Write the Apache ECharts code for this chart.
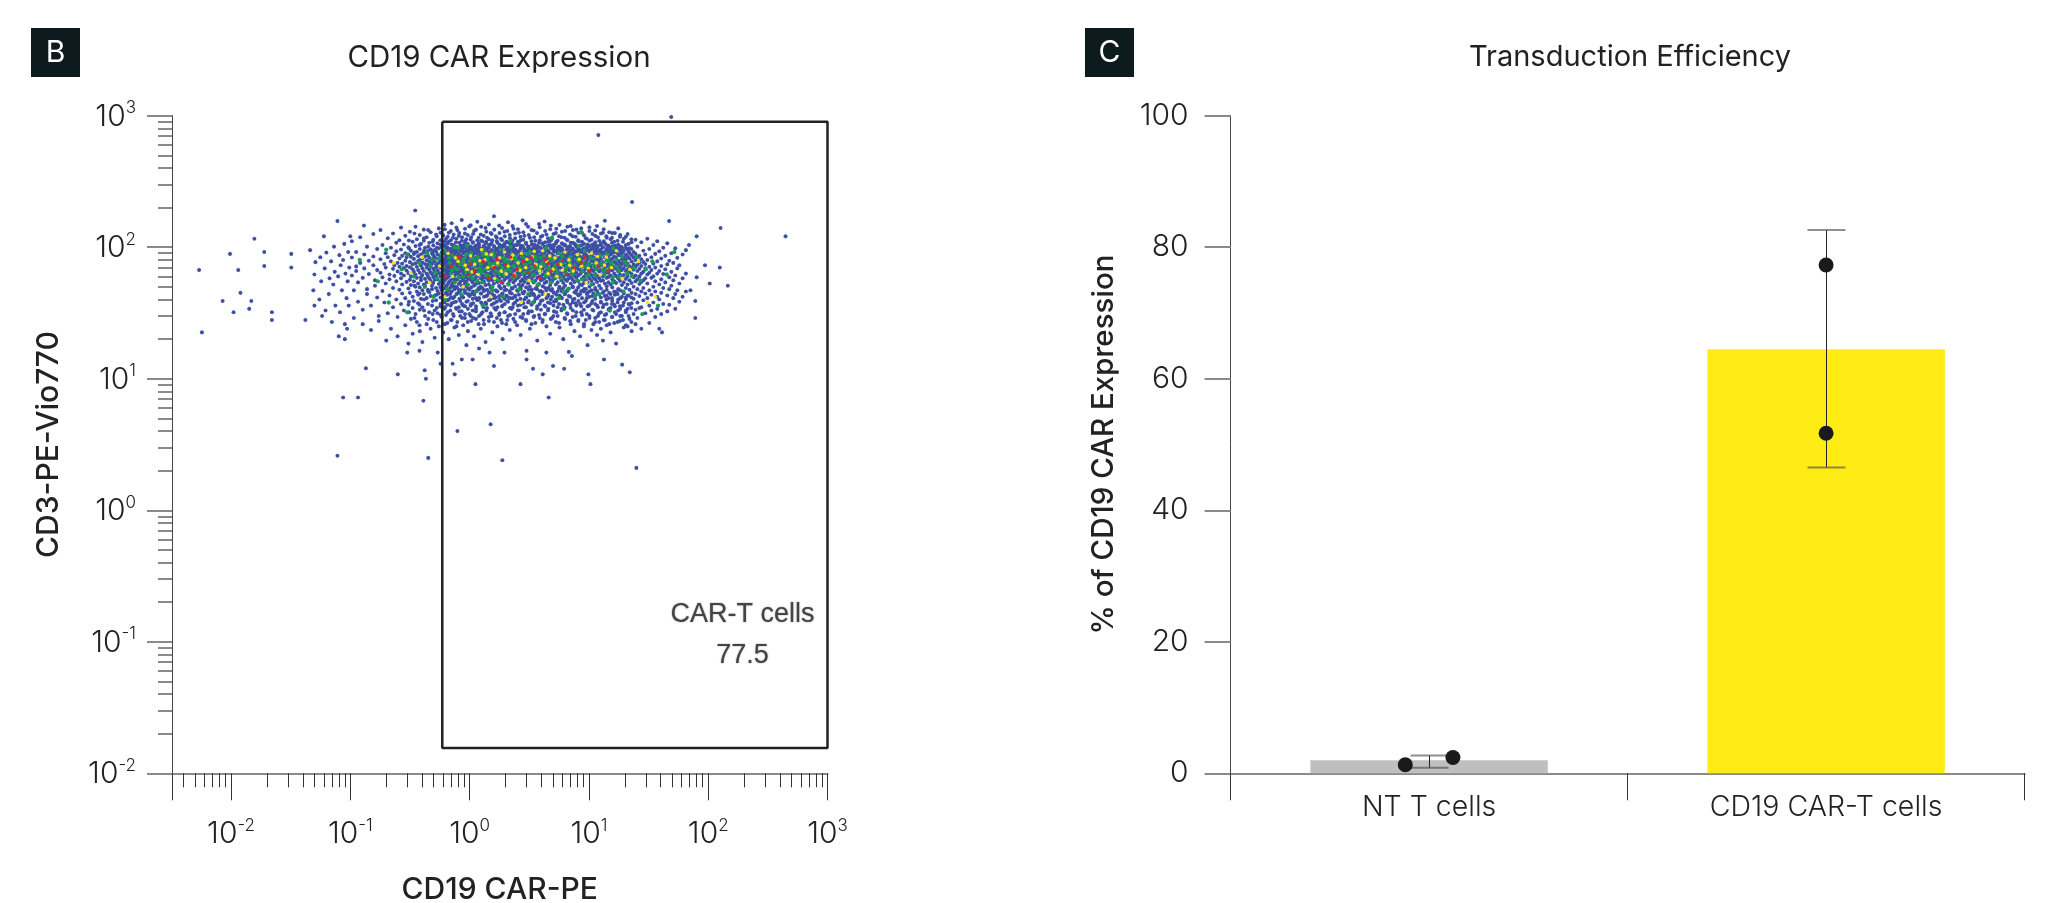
<!DOCTYPE html>
<html><head><meta charset="utf-8">
<script src="https://cdn.jsdelivr.net/npm/echarts@6/dist/echarts.min.js"></script>
<style>html,body{margin:0;padding:0;background:#fff}#c{width:2052px;height:903px}</style>
</head><body><div id="c"></div>
<script>
// ---------- Panel B: flow cytometry ----------
const xDecades = [0.01, 0.1, 1, 10, 100, 1000];
const yDecades = [0.01, 0.1, 1, 10, 100, 1000];
const xMajorTicks = [0.0032, 0.01, 0.1, 1, 10, 100, 1000];
const xMinorTicks = [0.004,0.005,0.006,0.007,0.008,0.009,0.02,0.03,0.04,0.05,0.06,0.07,0.08,0.09,0.2,0.3,0.4,0.5,0.6,0.7,0.8,0.9,2,3,4,5,6,7,8,9,20,30,40,50,60,70,80,90,200,300,400,500,600,700,800,900];
const yMinorTicks = [0.02,0.03,0.04,0.05,0.06,0.07,0.08,0.09,0.2,0.3,0.4,0.5,0.6,0.7,0.8,0.9,2,3,4,5,6,7,8,9,20,30,40,50,60,70,80,90,200,300,400,500,600,700,800,900];
const gateX = [0.59, 1000, 1000, 0.59, 0.59];
const gateY = [900, 900, 0.0156, 0.0156, 900];

// scattered events read individually [x, y]
const sparseEvents = [[49,977],[12,712],[23,221],[.35,190],[.078,158],[127,140],[445,121],[80,121],[47,158],[.0157,116],[.0098,89],[.019,92],[.0054,67],[.0115,67],[.019,72],[.032,89],[.032,70],[.046,95],[.06,121],[.1,121],[.13,146],[.0085,39],[.012,45],[.0148,39],[.0105,32],[.0142,34],[.022,32],[.022,28],[.0057,22.5],[.042,28],[.05,36],[.08,21],[.09,20],[.2,19.5],[.135,12],[.25,10.8],[.42,11.6],[.43,10],[.087,7.2],[.116,7.2],[.41,6.8],[4.6,7.2],[1.5,4.5],[.79,4],[.078,2.6],[.45,2.5],[1.88,2.4],[25,2.1],[.75,10.8],[1.12,9.1],[2.67,9.1],[10.3,9.1],[9.9,10.8],[4.1,10.8],[3.4,11.9],[5,12.5],[6.2,11.9],[22,11.2],[19,12.8],[13.4,14],[3,14],[1.6,12.5],[.86,14],[.72,13],[.57,13],[7.2,14.9],[4.4,15.8],[3,16.3],[1.96,15.8],[1.47,15.8],[1.06,14],[.3,15.8],[.38,16.3],[.54,15.8],[1.2,17],[41,22.5],[78,29],[78,39],[146,51],[103,53],[125,70],[94,73],[80,59],[71,47],[69,104],[.05,62],[.051,77],[.049,47],[.056,84],[.057,55],[.055,40],[.058,30],[.061,69],[.063,91],[.062,33],[.067,58],[.069,78],[.066,44],[.07,27],[.073,101],[.074,65],[.072,52],[.075,36],[.081,87],[.083,73],[.079,60],[.085,47],[.082,32],[.089,106],[.091,63],[.087,80],[.093,41],[.09,26],[.096,92],[.098,70],[.095,55],[.097,36],[.094,24]];

// main cloud, one row per CD19 CAR-PE reading: [x, y, y, y ...]
const cloudColumns = [
[.103,111,83.5,61],[.107,47,29],[.112,92,71.5,66],[.116,38.5,54],[.121,119,76],[.127,58.5,33.5,26],[.131,88,69],[.138,101,48,44],[.143,79,62.5],[.149,36,23.5],[.156,126,85,73],[.161,56,51],[.168,97,67,41.5],[.173,30,27.5],[.179,135,81,64],[.186,104,59,46.5],[.193,74.5,38],[.198,90,70,53],[.206,117,84,31.5],[.213,62,57,43],[.219,99,78,24],[.228,127,68.5,49,35],[.234,87,73,60.5],[.243,108,93,55,40],[.249,76,65.5,29.5,21],[.258,113,82,71,47.5],
[.266,141,96,63,58,37],[.272,86,75,52,44.5],[.281,105,69.5,61,33],[.289,122,90,79,41,25.5],[.296,83.5,72,66.5,54.5],[.307,100,88,63.5,48.5,36.5,18.5],[.316,131,77,70.5,56.5,45],[.322,94,84.5,60,51.5,28.5],[.333,110,74,68,42,34.5,22],[.341,89,81.5,65,55,39],[.352,143,102,75.5,62,50,31],[.361,115,92,71,58.5,46,27],[.37,85.5,78.5,67,53,43.5,37.5],[.382,124,97,80,64,49.5,33.5,23],[.391,106,88.5,72.5,59,56,40.5],[.402,82.5,76.5,69,61.5,47,35,19],[.413,136,112,91,66,52,44],[.423,99,85,74.5,57.5,50.5,30],[.436,119,79.5,70,63,54,41,26],[.447,93.5,86.5,73.5,60.5,47.5,37],[.459,108,83,77.5,67.5,58,45.5,32],[.471,130,96.5,71.5,64.5,55.5,42.5,24],[.484,90,81,75,62.5,51,48,36],[.496,114,103,87,68.5,59.5,53.5,28],[.509,95,84,78,65.5,56.5,43,33,20.5],[.524,125,92.5,74,70.5,61,49,39.5],[.538,107,88,82,66.5,57,46.5,31.5],[.552,139,98,76,72,63.5,52.5,44.5,25],[.569,113,86,79,69.5,60,54.5,41.5,35.5],[.583,101,91.5,83.5,73,64,50,47,29.5],[.601,123,94.5,77,67,58.5,53,42,22.5],
[.617,148,104,89.5,81,74.5,68,61.5,55.5,48.5,38,34],[.634,116,96,85.5,78,71,65,57.5,50.5,45,30.5],[.651,100,92,82.5,75.5,69,63,59,52,43.5,36.5,26.5],[.668,129,110,87.5,80,72.5,66,60,54,47.5,40,20],[.689,97,90.5,84,76.5,70,62,56,49.5,44,33],[.707,152,105,93,79,73.5,67.5,64,51.5,46,37.5,28],[.726,118,99,86.5,81.5,74,68.5,58,53.5,41,31],[.746,94,88.5,83,77,70.5,65.5,60.5,55,48,42,24.5],[.768,109,101,91,78.5,72,66.5,62.5,56.5,50,38.5,34.5],[.789,135,95.5,85,80.5,75,69.5,63.5,57,49,44.5,27],[.811,122,89,82,76,71.5,64.5,59.5,52.5,45.5,35,21.5],[.836,103,93.5,86,79.5,73,67,61,54.5,47,39,30],
[.859,161,112,97.5,84.5,77.5,70.5,66,58.5,51,43,32.5],[.884,98.5,90,83.5,75.5,68,62.5,56,48.5,41.5,36,25.5],[.912,127,106,92,81,74.5,69,65,59,53,46.5,29],[.94,115,95,87,78.5,72.5,66.5,60.5,55,50.5,38.5,18],[.967,102,88,82.5,76,70,63,57.5,52,44,34,23],[.995,144,99.5,91.5,84,77,71,64,58.5,47.5,42.5,31],[1.03,119,96.5,85.5,79,73.5,67.5,61.5,56,49.5,37,27.5],[1.06,108,93,86.5,80,74,68.5,62,54,45.5,40.5,33],[1.09,133,100,89.5,81.5,75.5,69.5,63.5,57,51,43.5,21],[1.13,97,90,83,77.5,71.5,65.5,59.5,52.5,46,35.5,28.5],
[1.16,156,113,94.5,84.5,78,72,66,60,55.5,47,39.5],[1.2,104,92.5,87,79.5,74.5,68,62.5,53.5,48,41,30],[1.24,125,98,88.5,82,76,70,64.5,58,50,44.5,24],[1.28,111,95,85,80.5,73,67,61,56.5,49,36.5,32],[1.32,101,91,83.5,77,71,65,59,54.5,46.5,42,26],[1.36,140,107,93.5,86,78.5,72.5,66.5,60.5,51.5,38,19],[1.4,118,96,89,81,75,69,63,57.5,47.5,43,34.5],[1.45,99,92,84,79,73.5,68.5,62,55.5,52,45,29.5],[1.5,128,105,90.5,82.5,76.5,70.5,64,58.5,49.5,40,31.5],[1.55,113,94,87.5,80,74,67.5,61.5,56,50.5,44,22.5],
[1.6,172,102,91.5,85,78,71.5,65.5,59.5,53,37.5,27],[1.66,121,97,88,83,76,69.5,63.5,57,47,41.5,33.5],[1.71,108,93.5,86,80.5,74.5,68,60.5,54.5,46,35,25],[1.77,146,100,90,82,75.5,70,64,58,51,42.5,30.5],[1.83,116,95.5,87,79,73,66.5,62,55,48.5,39,28],[1.89,103,92,84.5,78,72,67,60,53.5,44.5,36,20],[1.96,131,106,89.5,81.5,75,69,63,56.5,50,40.5,32],[2.03,110,96.5,88.5,83.5,76.5,70.5,64.5,58.5,47.5,43,26],[2.1,155,99,91,85,77.5,71,65,59,52.5,38.5,30],[2.17,124,94,86.5,80,73.5,68,61.5,55.5,46.5,41,23.5],
[2.25,107,97.5,89,82,75.5,69.5,62.5,57.5,49,44.5,34],[2.33,138,101,92.5,84,78.5,72.5,66,60,54,37,28.5],[2.41,117,95,87.5,80.5,74,67.5,61,56,50.5,42,31],[2.5,104,90.5,85.5,79,73,68.5,63,58,47,39.5,25.5],[2.59,129,109,93,83,76,70,64,59.5,52,43.5,33],[2.68,113,98.5,88,81,75,69,62,55,48,36.5,21.5],[2.78,160,102,91,84.5,77,71.5,65.5,57,51.5,45,29],[2.88,122,96,86,79.5,73.5,67,60.5,54.5,46,40,35],[2.98,106,92,87,81.5,76,70.5,63.5,58,49.5,41.5,27.5],[3.09,143,100,89.5,83,77.5,72,66.5,59,53,38,31.5],
[3.2,118,94.5,85,78.5,74.5,68,61,56.5,50,43,24],[3.32,105,97,90,82.5,75.5,69.5,64,57.5,47.5,37,32.5],[3.44,134,103,93.5,84,79,72.5,65,60.5,54,44,29.5],[3.56,112,95.5,88.5,80,73,67.5,62.5,55.5,48.5,40.5,26.5],[3.69,100,91.5,86,81,76.5,70,63.5,58.5,51,35.5,19.5],[3.82,150,108,92.5,85,78,71,66,59.5,52.5,42.5,30.5],[3.96,120,98,87,79.5,74,68.5,60,56,46.5,39,33.5],[4.1,107,94,89,83.5,75,69,62,57,50.5,45.5,28],[4.25,157,101,91,82,77,71.5,65,58,53.5,36,31],[4.41,125,96.5,86.5,80.5,73.5,67,61.5,54.5,47,41,25],
[4.57,110,93,88,84.5,76,70,64.5,59,49,43.5,34],[4.74,137,104,90,81,75.5,69.5,63,56.5,51.5,37.5,22],[4.91,116,97.5,87.5,78.5,72.5,66.5,60.5,55,48,42,29],[5.09,102,92.5,85.5,82.5,74.5,68,62.5,57.5,45,38.5,32.5],[5.28,128,107,94,84,77.5,71,65.5,58.5,52,40,27],[5.47,112,99,89.5,80,73,67.5,61,54,46,35,30],[5.67,148,100.5,91,83,76.5,70.5,64,59.5,50,43,24.5],[5.88,119,95,86,79,75,69,63,56,47.5,41.5,33],[6.1,105,93.5,88.5,81.5,74,66,60,53.5,49,36.5,20],[6.32,133,103,92,85,78,72,65,57,51,44,28.5],
[6.55,114,96,87,80.5,73.5,68.5,61.5,55.5,46.5,39.5,31.5],[6.79,100,90.5,84,77,71.5,67,62,58,48.5,42.5,16],[7.04,145,108,94.5,86.5,79.5,74,66.5,59,53,34.5,26],[7.3,121,97.5,89,82,76,69.5,63.5,56.5,50.5,38,29.5],[7.57,106,92,85,78.5,72,65.5,60.5,54.5,45.5,40.5,23],[7.85,136,101,90.5,83.5,75,70,64,58.5,47,36,32],[8.14,113,95.5,87.5,80,73,68,61,55,49.5,43.5,27.5],[8.44,103,93,84.5,79,74.5,67,62.5,52,44,37,21],[8.75,129,110,91.5,81,76.5,71,65,57.5,51.5,41,30.5],[9.07,155,98,86,82.5,72.5,66.5,59.5,53.5,46,33.5,25],
[9.41,117,94,88.5,77.5,74,69,63,56,48,39,28],[9.75,105,96,85,80.5,73.5,68.5,60,54,45,35.5,18],[10.1,133,102,92.5,83,75.5,70.5,64.5,58,50,42,30],[10.5,114,97,87,79,72,67.5,61.5,55.5,47,37.5,23.5],[10.9,101,90,84,78,73,66,59,52.5,44.5,33,26],[11.3,122,104,93,82,76,69.5,62.5,57,49,40.5,29],[11.7,145,99,88,80.5,74.5,68,60.5,54.5,46.5,36,21.5],[12.2,112,94.5,85.5,78.5,71.5,65.5,58,51,43.5,31.5,27],[12.6,104,91,86.5,81.5,75,67,62,55.5,48.5,38,24],[13.1,129,100,89,77,72.5,66,60,56,45,35,19.5],
[13.6,159,107,92,83.5,74,69,63.5,53,42.5,30.5,28],[14.1,118,96.5,86,79.5,73,65,58.5,50.5,47.5,37,25.5],[14.6,103,93,84.5,76,71,64,59.5,54,41,33.5],[15.2,115,98,88,80,74.5,67.5,61,52,44,34.5,22.5],[15.7,128,101,90.5,82,72,66.5,57,49.5,39,29.5],[16.3,110,94,85,77.5,70.5,63,55,46,36.5,26.5],[16.9,99,91.5,83,75,68.5,60.5,53.5,45.5,31,18.5],[17.6,139,105,87.5,79,72.5,65.5,58,48,40,33],[18.2,120,95,86.5,76.5,70,62,55.5,47,35.5,27.5],[18.9,100,89.5,81,74,67,59,51.5,42,30],
[19.6,116,93.5,84,77,69.5,61.5,54,44.5,38,24.5],[20.4,104,88,80.5,73,66,57.5,49,41.5,32],[21.1,126,96,85,75.5,68,60,52,43,34,25],[21.9,98,90.5,82,71.5,64.5,56,47.5,36.5,28.5],[22.8,109,87,78,70,62.5,53.5,45,37.5,23],[23.7,92,83.5,74,67.5,59,50,40.5,31],[24.6,114,89,79.5,71,61,55,44,33.5,26],[25.5,101,84,73.5,66,57,48,38,29],[26.5,86,76.5,68.5,60,52.5,42.5,34.5],[27.5,109,81,72,63,54.5,46,35,24],
[28.6,94,77,65,56,49,39.5],[29.7,88,74.5,69,58,44.5,31.5],[30.9,116,80,62,53,41],[32.1,97,71,64,47,36,26.5],[33.4,84,67,58.5,43.5,33],[34.7,104,75,60,50,38],[36,89,70,55,46,29.5],[37.4,111,78,63,42,34],[38.9,93,66,52,40,24],[40.4,82,72,57,45,31],[42,99,62.5,49,37],[43.7,86,68,54],[45.4,107,74,43,32.5],[47.2,79,59,48,36.5],[49.1,90,65,51],[51,76,56,41],[53,98,61,44,34],[55.1,83,69,47],[57.3,73,53,38.5],[61,88,58,42],[65,95,63,46]
];
// upper and lower shoulders of the cloud
const cloudShoulders = [
[.31,112.5,98,38.5,32],[.345,127,91,51,29],[.38,104,44.5,36.5,25.5],[.415,117,94,40,33],[.45,135,101,46,28.5],[.49,110,93,39,31],[.53,121,99,43.5,34.5,27],[.57,129,105,49.5,37,30.5],
[.62,137,111,102,43,35,26],[.655,120,107,98,46.5,39.5,32],[.695,133,113,95,41.5,36,28],[.735,125,104,92,50,38,30],[.775,141,116,99,44,34,25],[.82,128,108,96,47,40.5,32.5],[.865,119,103,94,42,37,29],[.915,138,111,100,45,35.5,31],[.965,124,106,95.5,48.5,39,27],[1.02,147,114,101,43.5,36,30],
[1.07,126,109,97,46,37.5,29],[1.13,136,103,93.5,41,34,32.5],[1.19,118,107,99,49,40,26],[1.25,143,112,96,44.5,38,31],[1.31,122,102,94,47.5,35,28],[1.38,131,110,98.5,42.5,37,33],[1.45,149,115,104,45.5,39.5,27.5],[1.53,126,108,95,48,36.5,30],[1.61,136,100.5,92,43,41,34.5],[1.69,118,111,97,46,38.5,29],
[1.78,128,105,94.5,50,40,31.5],[1.87,140,113,99.5,44,35.5,26.5],[1.97,121,102,93,47,37,32],[2.07,133,109,96.5,42,39,28],[2.18,117,106,98,45,34.5,30.5],[2.29,145,112,101,48.5,41,35],[2.41,127,104,95.5,43,38,27],[2.54,137,110,92.5,46.5,36,33],[2.67,120,103,97,49.5,40.5,29.5],[2.82,130,114,99,44.5,37.5,31],
[2.97,150,108,94,41.5,35,28],[3.13,124,101,96,47.5,39,32.5],[3.3,135,111,93,45,36.5,26],[3.48,119,105,98,43,38.5,30],[3.67,128,102.5,95,48,41,34],[3.87,142,113,100,46,37,29],[4.08,122,106,92,44,39.5,27],[4.3,133,109,97,49,35.5,31],[4.54,117,103,94,42.5,38,33],[4.79,146,112,99,47,40,28.5],
[5.05,126,104,96,45.5,36,30],[5.33,138,110,93,43.5,39,32],[5.62,121,101,95,48.5,37,26.5],[5.93,131,107,98,46,41,34],[6.25,118,105,92,44,35,29],[6.6,143,113,100,47,38,31],[6.96,125,102,94,42,36.5,27.5],[7.34,135,108,96.5,49.5,40,33],[7.75,120,104,93,45,37.5,30],[8.17,129,111,99,43,39,28],
[8.62,139,103,95,46.5,35.5,32],[9.1,123,106,92,48,38,26],[9.6,116,100.5,97,44,41,31],[10.1,142,112,94,46,36,29],[10.7,126,105,98,42.5,39,33.5],[11.3,134,109,95,47.5,37,27],[11.9,119,102,93,44.5,35,30],[12.6,127,107,96,41.5,38.5,32],[13.3,137,111,91,46,36.5,28],[14,121,104,97,43,40,31],
[14.8,130,100,93,45,34,26],[15.6,118,108,95,41,37,29.5],[16.5,128,103,92,43.5,35.5,32],[17.4,112,98,44,38,27],[18.3,124,101,90,41,34,30],[19.3,110,95,46,36,28],[20.4,120,99,40,33,25.5],[21.5,106,92,43,37,30],[22.7,115,97,41.5,34.5,27]
];
const greenEvents = [[.12,80],[.17,55],[.2,96],[.21,38],[.27,68],[.3,88],[.3,32],[.34,60],[.38,76],[.42,50],[.44,90],[.47,72],[.5,42],[.52,64],[.55,82],[.58,56],[.6,70],[.62,94],[.65,48],[.68,76],[.7,62],[.72,86],[.75,54],[.78,68],[.8,98],[.83,74],[.85,44],[.88,60],[.9,82],[.93,66],[.96,52],[1,78],[1.03,90],[1.06,58],[1.1,70],[1.13,46],[1.17,84],[1.2,64],[1.24,74],[1.28,54],[1.32,92],[1.36,68],[1.4,80],[1.44,60],[1.5,72],[1.55,50],[1.6,86],[1.65,66],[1.7,76],[1.76,56],[1.82,96],[1.88,70],[1.94,62],[2,82],[2.06,74],[2.13,52],[2.2,66],[2.27,88],[2.35,72],[2.42,60],[2.5,78],[2.6,48],[2.7,68],[2.8,84],[2.9,64],[3,74],[3.1,56],[3.2,92],[3.3,70],[3.45,62],[3.6,80],[3.75,52],[3.9,66],[4.05,76],[4.2,86],[4.4,60],[4.6,70],[4.8,54],[5,82],[5.2,72],[5.4,64],[5.6,90],[5.85,58],[6.1,76],[6.4,68],[6.7,48],[7,84],[7.3,62],[7.6,72],[8,56],[8.4,78],[8.8,66],[9.2,94],[9.6,60],[10,74],[10.5,52],[11,82],[11.6,68],[12.2,44],[12.8,76],[13.5,62],[14.2,88],[15,70],[16,54],[17,80],[18,66],[19.5,46],[21,74],[23,60],[25,84],[27,56],[30,68],[34,78],[38,36],[45,62],[52,92],[4.9,118],[2.2,112],[8.6,130],[.62,40],[1.3,36],[3.4,38],[6.2,34],[15,33],[28,31],
[.67,83],[.74,71],[.81,59],[.87,77],[.94,88],[1.01,63],[1.08,81],[1.15,55],[1.22,69],[1.3,87],[1.38,61],[1.47,75],[1.57,91],[1.67,57],[1.78,73],[1.9,83],[2.03,67],[2.16,79],[2.3,59],[2.45,85],[2.62,71],[2.8,63],[3,89],[3.2,77],[3.42,55],[3.66,69],[3.92,83],[4.2,73],[4.5,65],[4.85,79],[5.2,59],[5.6,75],[6,85],[6.45,63],[6.95,77],[7.5,69],[8.1,87],[8.8,57],[9.5,71],[10.3,83],[11.2,61],[12.1,73],[13.1,67],[14.4,79],[15.8,59],[17.2,71],[19,85],[21,63],[24,69],[.48,80],[.53,58],[.58,88],
[.71,66.5],[.79,81.5],[.9,71.5],[.98,60.5],[1.12,76.5],[1.26,65.5],[1.42,84.5],[1.6,74.5],[1.75,63.5],[1.98,77.5],[2.12,68.5],[2.4,81.5],[2.55,66.5],[2.85,74.5],[3.15,64.5],[3.55,85.5],[3.82,72.5],[4.35,61.5],[4.75,82.5],[5.3,67.5],[5.9,79.5],[6.6,71.5],[7.2,65.5],[7.95,80.5],[9,75.5],[9.9,63.5],[11,72.5],[12.5,86.5],[13.9,66.5],[15.5,75.5],[18,59.5],[20,77.5],
[.95,103],[1.55,47],[2.2,101],[3.1,44],[4.4,99],[6.1,46],[8.2,102],[11.3,43],[16,98],[.75,100],[1.9,42],[5.6,41]];
const yellowEvents = [[.23,76],[.32,64],[.4,84],[.46,54],[.56,72],[.66,90],[.72,60],[.8,78],[.88,50],[.95,68],[1.02,86],[1.1,74],[1.18,62],[1.26,96],[1.34,80],[1.42,70],[1.52,88],[1.62,58],[1.72,76],[1.84,66],[1.96,92],[2.1,72],[2.24,82],[2.38,62],[2.55,76],[2.72,90],[2.95,70],[3.15,56],[3.35,84],[3.6,74],[3.85,66],[4.1,94],[4.4,78],[4.7,86],[5,68],[5.4,60],[5.8,74],[6.3,92],[6.8,80],[7.4,66],[8,88],[8.7,72],[9.5,54],[10.5,90],[11.5,76],[12.5,62],[14,84],[15.5,70],[17,94],[19,58],[22,68],[26,78],[31,38],[36,42],[1.5,42],[2.7,38],[.62,42],[4.3,44],
[.76,83],[.92,73],[1.05,65],[1.22,79],[1.38,89],[1.58,71],[1.78,83],[2.02,63],[2.3,87],[2.64,67],[3.02,81],[3.48,93],[3.95,71],[4.55,63],[5.2,83],[6,67],[6.9,73],[8.3,81],[9.9,69],[11.8,85],[13.5,73]];
const redEvents = [[.62,60],[.7,72],[.82,84],[.98,62],[1.1,66],[1.3,78],[1.45,58],[1.6,70],[1.85,54],[2,74],[2.2,84],[2.5,68],[2.8,78],[3.1,64],[3.5,72],[3.9,58],[4.3,80],[4.8,66],[5.5,74],[6.5,62],[7.5,70],[8.6,76],[10,66],[12,72],[1.02,75],[1.7,81],[2.35,61],[3.3,83],[4.6,75],[6,79],[9.2,84],[14.5,66]];

// ---------- Panel C: transduction efficiency ----------
const categories = ['NT T cells', 'CD19 CAR-T cells'];
const barValues = [2.0, 64.5];
const errorLow = [0.85, 46.5];
const errorHigh = [2.7, 82.6];
const errorX = [0.5, 1.5];
const dotX = [0.44, 0.56, 1.5, 1.5];
const dotY = [1.3, 2.4, 77.3, 51.7];

// ---------- build ----------
const blueEvents = sparseEvents.slice();
cloudColumns.concat(cloudShoulders).forEach(r => r.slice(1).forEach(y => blueEvents.push([r[0], y])));

const FONT = 'Inter';
const TXT = '#222';
const GREY = '#8a8a8a';
const pow = v => {
  const e = Math.round(Math.log10(v));
  return '{b|10}{s|' + String(e) + '}';
};
const powRich = {
  b: {fontFamily: FONT, fontWeight: 300, fontSize: 30, color: TXT, verticalAlign: 'bottom', lineHeight: 32},
  s: {fontFamily: FONT, fontWeight: 300, fontSize: 17, color: TXT, verticalAlign: 'top', lineHeight: 32, padding: [0,0,8,0]}
};
const ev = (name, data, color, size) => ({
  type: 'scatter', name, data, xAxisIndex: 0, yAxisIndex: 0, symbol: 'circle', symbolSize: size,
  itemStyle: {color, opacity: 1, shadowBlur: 1, shadowColor: color}, large: false, silent: true, animation: false, clip: true
});
const boxText = (x, label) => ({
  type: 'group', left: x, top: 28, children: [
    {type: 'rect', shape: {x: 0, y: 0, width: 49, height: 49}, style: {fill: '#0d1b1e'}},
    {type: 'text', x: 24.5, y: 25, style: {text: label, fill: '#fff', fontFamily: FONT, fontSize: 30, fontWeight: 400, textAlign: 'center', textVerticalAlign: 'middle'}}
  ]
});
const crisp = v => Math.round(v) + 0.5;

const option = {
  animation: false,
  backgroundColor: '#fff',
  title: [
    {text: 'CD19 CAR Expression', left: 494, top: 38, textAlign: 'center', textStyle: {fontFamily: FONT, fontWeight: 400, fontSize: 29.5, color: TXT}},
    {text: 'Transduction Efficiency', left: 1625, top: 38, textAlign: 'center', textStyle: {fontFamily: FONT, fontWeight: 400, fontSize: 29, color: TXT}}
  ],
  grid: [
    {left: 172, top: 115.7, width: 655.5, height: 657.6, outerBoundsMode: 'none'},
    {left: 1230.6, top: 115.7, width: 794, height: 657.6, outerBoundsMode: 'none'}
  ],
  xAxis: [
    {type: 'log', gridIndex: 0, min: 0.0032, max: 1000, position: 'bottom',
     name: 'CD19 CAR-PE', nameLocation: 'middle', nameGap: 102,
     nameTextStyle: {fontFamily: FONT, fontSize: 30, fontWeight: 500, color: TXT},
     axisLine: {show: true, onZero: false, lineStyle: {color: GREY, width: 2}},
     axisTick: {show: true, length: 27, customValues: xMajorTicks, lineStyle: {color: '#333', width: 1}},
     axisLabel: {show: true, customValues: xDecades, margin: 44, formatter: pow, rich: powRich, hideOverlap: false},
     splitLine: {show: false}, minorTick: {show: false}},
    {type: 'log', gridIndex: 0, min: 0.0032, max: 1000, position: 'bottom',
     axisLine: {show: false, onZero: false},
     axisTick: {show: true, length: 14, customValues: xMinorTicks, lineStyle: {color: '#333', width: 1}},
     axisLabel: {show: false}, splitLine: {show: false}},
    {type: 'category', gridIndex: 1, data: categories, position: 'bottom',
     axisLine: {show: true, onZero: false, lineStyle: {color: GREY, width: 2}},
     axisTick: {show: true, length: 27, alignWithLabel: false, lineStyle: {color: '#333', width: 1}},
     axisLabel: {show: true, margin: 20, fontFamily: FONT, fontWeight: 300, fontSize: 28.5, color: TXT},
     splitLine: {show: false}},
    {type: 'value', gridIndex: 1, min: 0, max: 2, show: false}
  ],
  yAxis: [
    {type: 'log', gridIndex: 0, min: 0.01, max: 1000, position: 'left',
     name: 'CD3-PE-Vio770', nameLocation: 'middle', nameGap: 108, nameRotate: 90,
     nameTextStyle: {fontFamily: FONT, fontSize: 30, fontWeight: 500, color: TXT},
     axisLine: {show: true, onZero: false, lineStyle: {color: '#444', width: 1}},
     axisTick: {show: true, length: 25, customValues: yDecades, lineStyle: {color: GREY, width: 2}},
     axisLabel: {show: true, customValues: yDecades, margin: 36, formatter: pow, rich: powRich, hideOverlap: false},
     splitLine: {show: false}},
    {type: 'log', gridIndex: 0, min: 0.01, max: 1000, position: 'left',
     axisLine: {show: false, onZero: false},
     axisTick: {show: true, length: 14, customValues: yMinorTicks, lineStyle: {color: GREY, width: 2}},
     axisLabel: {show: false}, splitLine: {show: false}},
    {type: 'value', gridIndex: 1, min: 0, max: 100, interval: 20, position: 'left',
     name: '% of CD19 CAR Expression', nameLocation: 'middle', nameGap: 111, nameRotate: 90,
     nameTextStyle: {fontFamily: FONT, fontSize: 29.5, fontWeight: 500, color: TXT},
     axisLine: {show: true, lineStyle: {color: '#444', width: 1}},
     axisTick: {show: true, length: 26, lineStyle: {color: GREY, width: 2}},
     axisLabel: {show: true, margin: 42, fontFamily: FONT, fontWeight: 300, fontSize: 30, color: TXT},
     splitLine: {show: false}}
  ],
  graphic: [
    boxText(31, 'B'),
    boxText(1085, 'C')
  ],
  series: [
    ev('blue', blueEvents, '#3d4fa3', 3.6),
    ev('green', greenEvents, '#1a9a55', 3.8),
    ev('yellow', yellowEvents, '#f7e322', 3.2),
    ev('red', redEvents, '#dd2230', 3.2),
    {type: 'line', xAxisIndex: 0, yAxisIndex: 0, data: gateX.map((x, i) => [x, gateY[i]]),
     symbol: 'none', clip: false, silent: true, lineStyle: {color: '#222', width: 2.5}, z: 5,
     markPoint: {
       symbol: 'rect', symbolSize: 0, silent: true,
       data: [
         {coord: [194, 0.16], label: {show: true, formatter: 'CAR-T cells', position: 'inside', fontFamily: 'Liberation Sans', fontSize: 27, color: '#444', textShadowBlur: 1.5, textShadowColor: '#777'}},
         {coord: [194, 0.079], label: {show: true, formatter: '77.5', position: 'inside', fontFamily: 'Liberation Sans', fontSize: 27, color: '#444', textShadowBlur: 1.5, textShadowColor: '#777'}}
       ]
     }},
    {type: 'bar', xAxisIndex: 2, yAxisIndex: 2, barWidth: '59.8%', silent: true,
     data: [{value: barValues[0], itemStyle: {color: '#bfbfbf'}}, {value: barValues[1], itemStyle: {color: '#ffec14'}}]},
    {type: 'custom', xAxisIndex: 3, yAxisIndex: 2, clip: false, silent: true, z: 6,
     data: errorX.map((x, i) => [x, errorLow[i], errorHigh[i]]),
     encode: {x: 0, y: [1, 2]},
     renderItem: function (params, api) {
       const lo = api.coord([api.value(0), api.value(1)]);
       const hi = api.coord([api.value(0), api.value(2)]);
       const cap = 19;
       const cx = crisp(lo[0]);
       const capStyle = {stroke: 'rgba(70,70,70,0.6)', lineWidth: 2};
       return {type: 'group', children: [
         {type: 'line', shape: {x1: cx, y1: lo[1], x2: cx, y2: hi[1]}, style: {stroke: '#222', lineWidth: 1}},
         {type: 'line', shape: {x1: cx-cap, y1: lo[1], x2: cx+cap, y2: lo[1]}, style: capStyle},
         {type: 'line', shape: {x1: cx-cap, y1: hi[1], x2: cx+cap, y2: hi[1]}, style: capStyle}
       ]};
     }},
    {type: 'scatter', xAxisIndex: 3, yAxisIndex: 2, clip: false, silent: true, z: 7, symbolSize: 15,
     itemStyle: {color: '#1a1a1a', opacity: 1}, data: dotX.map((x, i) => [x, dotY[i]])}
  ]
};
const chart = echarts.init(document.getElementById('c'), null, {renderer: 'canvas'});
chart.setOption(option);
</script></body></html>
